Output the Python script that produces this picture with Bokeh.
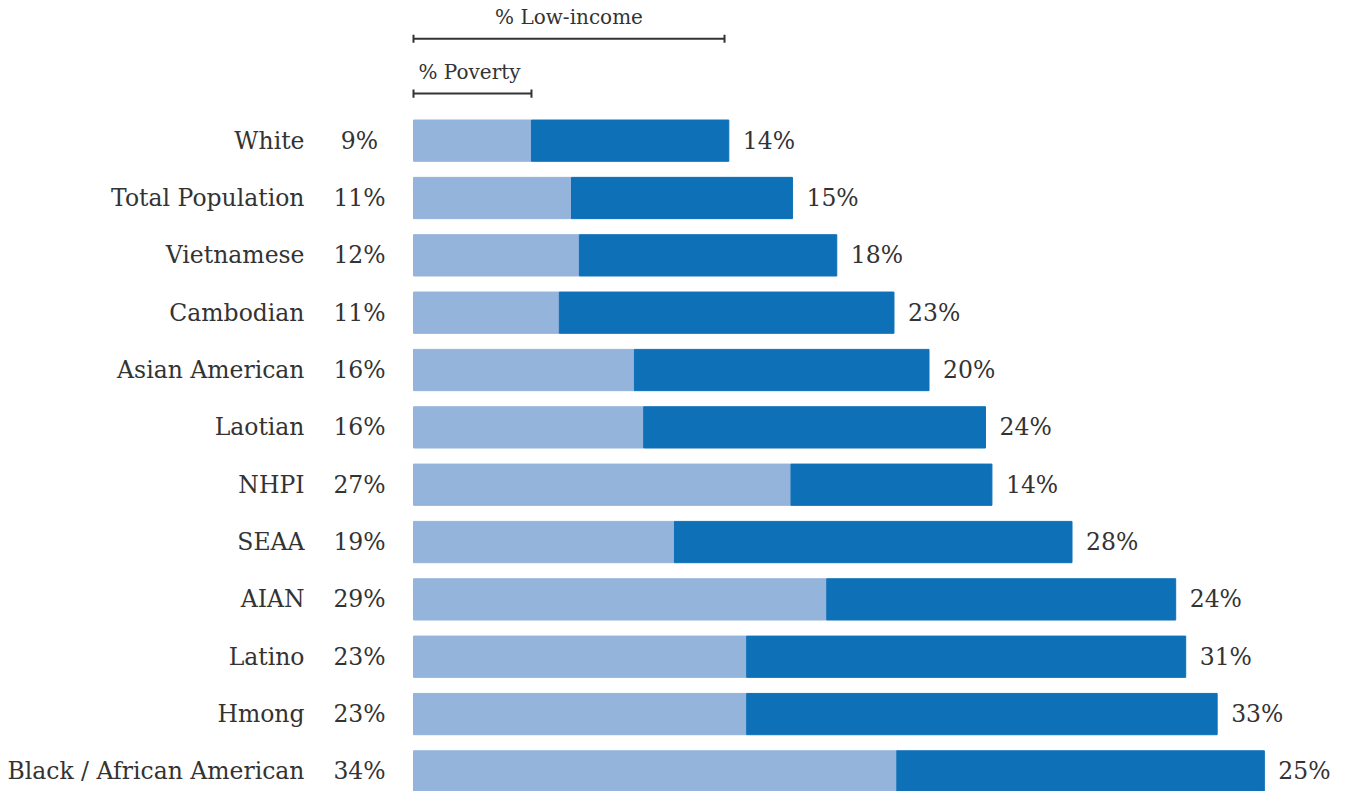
from bokeh.plotting import figure
from bokeh.models import Range1d, ColumnDataSource
from bokeh.core.properties import value
from bokeh.embed import file_html
from bokeh.resources import INLINE

categories = ["White", "Total Population", "Vietnamese", "Cambodian", "Asian American",
              "Laotian", "NHPI", "SEAA", "AIAN", "Latino", "Hmong", "Black / African American"]
# bar lengths (percent)
poverty = [8.25, 11.05, 11.6, 10.2, 15.45, 16.1, 26.4, 18.25, 28.9, 23.3, 23.3, 33.8]
low_income_extra = [13.8, 15.45, 18.0, 23.4, 20.6, 23.9, 14.05, 27.8, 24.4, 30.7, 32.9, 25.7]
# printed labels
poverty_labels = ["9%", "11%", "12%", "11%", "16%", "16%", "27%", "19%", "29%", "23%", "23%", "34%"]
extra_labels = ["14%", "15%", "18%", "23%", "20%", "24%", "14%", "28%", "24%", "31%", "33%", "25%"]

LIGHT = "#94b4db"
DARK = "#0e71b8"
TEXT = "#333333"
FONT = value("DejaVu Serif")
FS = "23.5px"
FS_SMALL = "20px"

W, H = 1330, 791
vs = H / 807.0          # vertical squeeze so the last row fits
px_per = 14.3
x0 = -413 / px_per
row = 58.5 * vs
ytop = 143 * vs / row

p = figure(width=W, height=H, output_backend="svg", toolbar_location=None,
           x_range=Range1d(x0, x0 + W / px_per),
           y_range=Range1d(ytop - H / row, ytop),
           min_border=0, outline_line_color=None)
p.axis.visible = False
p.grid.visible = False

ys = [-i for i in range(len(categories))]
total = [a + b for a, b in zip(poverty, low_income_extra)]
src = ColumnDataSource(dict(y=ys, cat=categories, pov=poverty, tot=total,
                            plab=poverty_labels, elab=extra_labels,
                            zero=[0] * len(ys)))

p.hbar(y="y", left="zero", right="pov", height=0.72, color=LIGHT, source=src)
p.hbar(y="y", left="pov", right="tot", height=0.72, color=DARK, source=src)

p.text(x="zero", y="y", text="cat", x_offset=-109, text_align="right", text_baseline="middle",
       text_font=FONT, text_font_size=FS, text_color=TEXT, source=src)
p.text(x="zero", y="y", text="plab", x_offset=-54, text_align="center", text_baseline="middle",
       text_font=FONT, text_font_size=FS, text_color=TEXT, source=src)
p.text(x="tot", y="y", text="elab", x_offset=14, text_align="left", text_baseline="middle",
       text_font=FONT, text_font_size=FS, text_color=TEXT, source=src)

# legend brackets based on first row
y_li = ytop - 39 * vs / row
y_pv = ytop - 95 * vs / row
tick = 0.07
li_end = total[0] - 0.3
pv_end = poverty[0]
p.segment(x0=[0, 0, 0, li_end, 0, 0, pv_end],
          y0=[y_li, y_li - tick, y_pv, y_li - tick, y_pv, y_pv - tick, y_pv - tick],
          x1=[li_end, 0, pv_end, li_end, 0, 0, pv_end],
          y1=[y_li, y_li + tick, y_pv, y_li + tick, y_pv, y_pv + tick, y_pv + tick],
          line_color=TEXT, line_width=2)
p.text(x=[li_end / 2], y=[ytop - 17 * vs / row], text=["% Low-income"], text_align="center",
       text_baseline="middle", text_font=FONT, text_font_size=FS_SMALL, text_color=TEXT)
p.text(x=[0], y=[ytop - 73 * vs / row], text=["% Poverty"], x_offset=5, text_align="left",
       text_baseline="middle", text_font=FONT, text_font_size=FS_SMALL, text_color=TEXT)

open("out.html", "w").write(file_html(p, INLINE))
